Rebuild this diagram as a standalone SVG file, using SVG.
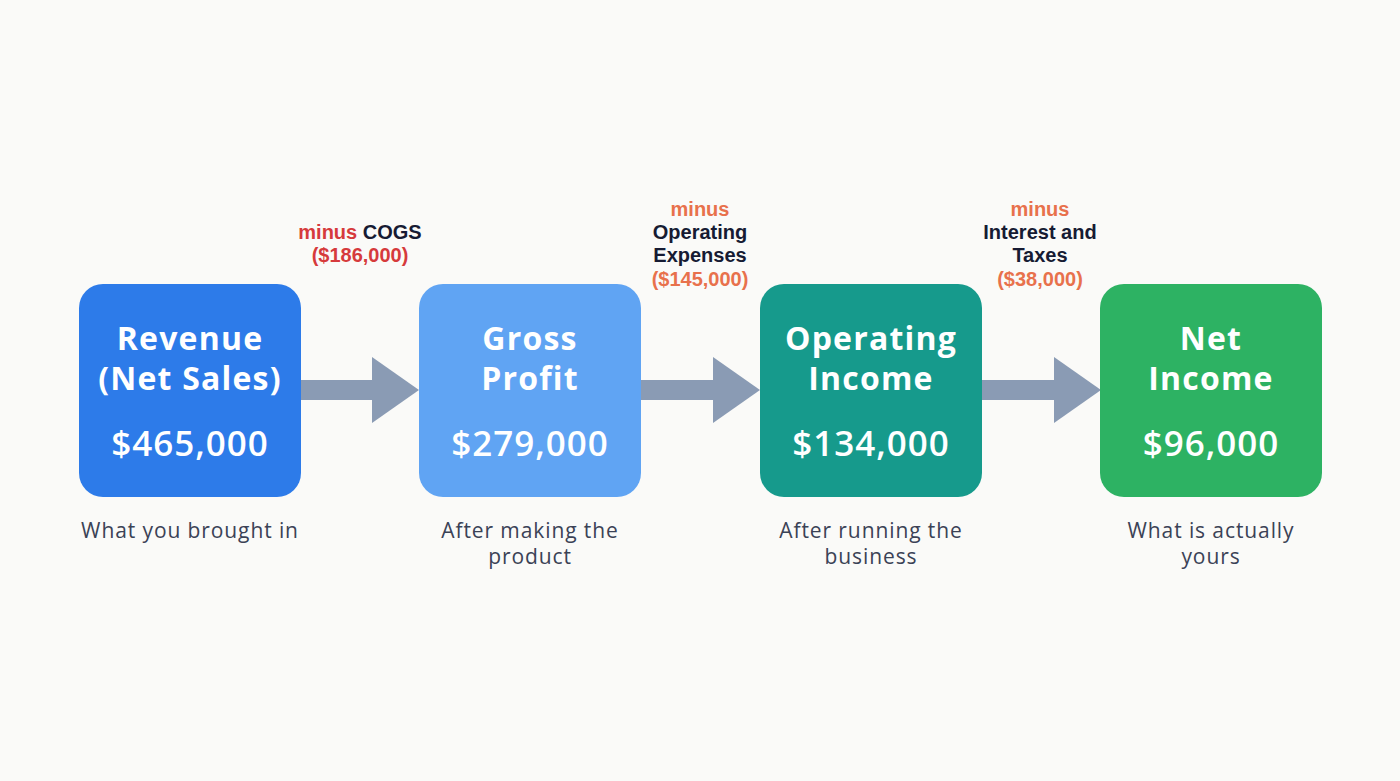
<svg xmlns="http://www.w3.org/2000/svg" width="1400" height="781" viewBox="0 0 1400 781">
<style>
.box{stroke:none}
.title{font-family:"Open Sans","Liberation Sans",sans-serif;font-weight:700;font-size:32px;letter-spacing:1.2px;fill:#ffffff;text-anchor:middle}
.val{font-family:"Open Sans","Liberation Sans",sans-serif;font-weight:600;font-size:35px;letter-spacing:1px;fill:#ffffff;text-anchor:middle}
.cap{font-family:"Open Sans","Liberation Sans",sans-serif;font-weight:400;font-size:21px;letter-spacing:0.9px;fill:#3b4256;text-anchor:middle}
.lbl{font-family:"Liberation Sans","Arial",sans-serif;font-weight:700;font-size:20px;text-anchor:middle;fill:#161b33}
.red{fill:#d63a3c}
.org{fill:#e8714c}
.arrow{fill:#8a9bb4}
</style>
<rect width="1400" height="781" fill="#fafaf8"/>
<g id="connectors">
<g id="arrow1"><rect class="arrow" x="300" y="380" width="74" height="20"/><polygon class="arrow" points="372,357 419,390 372,423"/></g>
<g id="arrow2"><rect class="arrow" x="640" y="380" width="75" height="20"/><polygon class="arrow" points="713,357 760,390 713,423"/></g>
<g id="arrow3"><rect class="arrow" x="981" y="380" width="75" height="20"/><polygon class="arrow" points="1054,357 1101,390 1054,423"/></g>
</g>
<g id="label1">
<text class="lbl" x="360" y="239"><tspan class="red">minus</tspan> COGS</text>
<text class="lbl red" x="360" y="262">($186,000)</text>
</g>
<g id="label2">
<text class="lbl org" x="700" y="216">minus</text>
<text class="lbl" x="700" y="239">Operating</text>
<text class="lbl" x="700" y="262">Expenses</text>
<text class="lbl org" x="700" y="286">($145,000)</text>
</g>
<g id="label3">
<text class="lbl org" x="1040" y="216">minus</text>
<text class="lbl" x="1040" y="239">Interest and</text>
<text class="lbl" x="1040" y="262">Taxes</text>
<text class="lbl org" x="1040" y="286">($38,000)</text>
</g>
<g id="node-revenue">
<rect class="box" x="79" y="284" width="222" height="213" rx="24" fill="#2d7be9"/>
<text class="title" x="190" y="350">Revenue</text>
<text class="title" x="190" y="390">(Net Sales)</text>
<text class="val" x="190" y="456">$465,000</text>
<text class="cap" x="190" y="538">What you brought in</text>
</g>
<g id="node-gross">
<rect class="box" x="419" y="284" width="222" height="213" rx="24" fill="#60a4f3"/>
<text class="title" x="530" y="350">Gross</text>
<text class="title" x="530" y="390">Profit</text>
<text class="val" x="530" y="456">$279,000</text>
<text class="cap" x="530" y="538">After making the</text>
<text class="cap" x="530" y="564">product</text>
</g>
<g id="node-operating">
<rect class="box" x="760" y="284" width="222" height="213" rx="24" fill="#169a8c"/>
<text class="title" x="871" y="350">Operating</text>
<text class="title" x="871" y="390">Income</text>
<text class="val" x="871" y="456">$134,000</text>
<text class="cap" x="871" y="538">After running the</text>
<text class="cap" x="871" y="564">business</text>
</g>
<g id="node-net">
<rect class="box" x="1100" y="284" width="222" height="213" rx="24" fill="#2db263"/>
<text class="title" x="1211" y="350">Net</text>
<text class="title" x="1211" y="390">Income</text>
<text class="val" x="1211" y="456">$96,000</text>
<text class="cap" x="1211" y="538">What is actually</text>
<text class="cap" x="1211" y="564">yours</text>
</g>
</svg>
